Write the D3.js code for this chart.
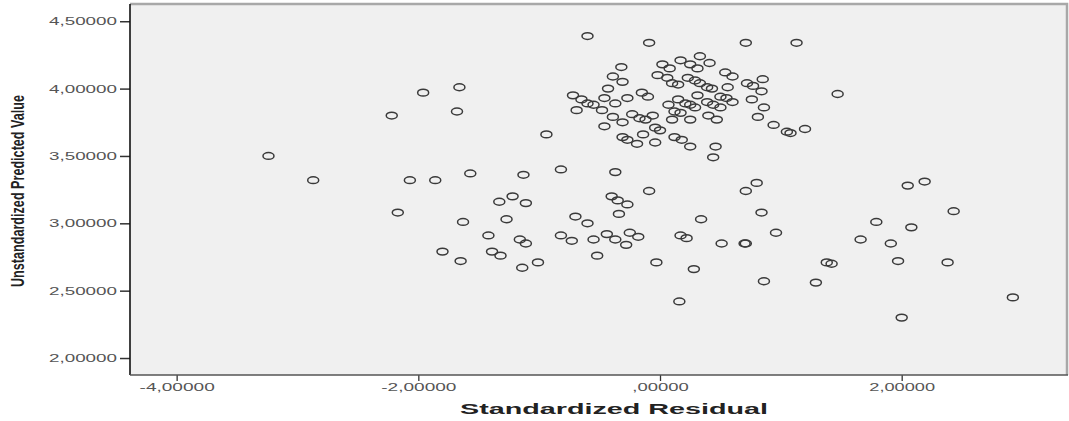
<!DOCTYPE html>
<html>
<head>
<meta charset="utf-8">
<script src="https://cdn.jsdelivr.net/npm/d3@7"></script>
<style>
  html, body { margin: 0; padding: 0; background: #fff; }
  svg { display: block; }
</style>
</head>
<body>
<svg id="chart" width="1069" height="421"></svg>
<script>
// standardized residual (x) and unstandardized predicted value (y)
const residual = [
  -0.60, -0.09, 0.71, 1.13, 1.47, -1.96, -1.66, -2.22, -1.68, -0.94,
  -3.24, -0.72, -0.65, -0.60, -0.55, -0.69, -0.46, -0.48, -0.43, -0.39,
  -0.31, -0.32, -0.27, -0.37, -0.39, -0.31, -0.46, -0.23, -0.17, -0.12,
  -0.06, -0.15, -0.10, 0.02, 0.08, -0.02, 0.06, 0.10, 0.15, 0.17,
  0.25, 0.31, 0.33, 0.41, 0.23, 0.29, 0.33, 0.39, 0.43, 0.54,
  0.60, 0.56, 0.07, 0.15, 0.21, 0.25, 0.12, 0.17, 0.29, 0.31,
  0.39, 0.44, 0.50, 0.50, 0.55, 0.60, 0.40, 0.47, 0.25, 0.10,
  -0.04, 0.00, -0.31, -0.27, -0.14, -0.19, -0.04, 0.12, 0.18, 0.25,
  0.46, 0.44, 0.72, 0.77, 0.84, 0.85, 0.76, 0.86, 0.81, 0.94,
  1.05, 1.08, 1.20,
  -2.87, -2.07, -1.86, -1.57, -1.13, -0.82, -0.37, -0.09, 0.80, 0.71,
  -1.33, -1.22, -1.11, -0.40, -0.35, -0.27, -2.17, -1.63, -1.27, -0.70,
  -0.60, -0.34, 0.34, 0.84, -1.42, -1.16, -1.11, -0.82, -0.73, -0.55,
  -0.44, -0.37, -0.25, -0.18, -0.28, 0.17, 0.22, 0.51, 0.70, 0.71,
  0.96, -1.80, -1.65, -1.39, -1.32, -0.52, -1.14, -1.01, -0.03, 0.28,
  0.16, 0.86, 1.29, 2.05, 2.19, 2.43, 1.79, 2.08, 1.66, 1.91,
  1.38, 1.42, 1.97, 2.38, 2.92, 2.00
];
const predicted = [
  4.39, 4.34, 4.34, 4.34, 3.96, 3.97, 4.01, 3.80, 3.83, 3.66,
  3.50, 3.95, 3.92, 3.89, 3.88, 3.84, 3.93, 3.84, 4.00, 4.09,
  4.05, 4.16, 3.93, 3.89, 3.79, 3.75, 3.72, 3.81, 3.78, 3.77,
  3.80, 3.97, 3.94, 4.18, 4.15, 4.10, 4.08, 4.04, 4.03, 4.21,
  4.18, 4.15, 4.24, 4.19, 4.08, 4.06, 4.04, 4.01, 4.00, 4.12,
  4.09, 4.01, 3.88, 3.92, 3.89, 3.88, 3.83, 3.82, 3.86, 3.95,
  3.90, 3.88, 3.86, 3.94, 3.93, 3.90, 3.80, 3.77, 3.77, 3.77,
  3.71, 3.69, 3.64, 3.62, 3.66, 3.59, 3.60, 3.64, 3.62, 3.57,
  3.57, 3.49, 4.04, 4.02, 3.98, 4.07, 3.92, 3.86, 3.79, 3.73,
  3.68, 3.67, 3.70,
  3.32, 3.32, 3.32, 3.37, 3.36, 3.40, 3.38, 3.24, 3.30, 3.24,
  3.16, 3.20, 3.15, 3.20, 3.17, 3.14, 3.08, 3.01, 3.03, 3.05,
  3.00, 3.07, 3.03, 3.08, 2.91, 2.88, 2.85, 2.91, 2.87, 2.88,
  2.92, 2.88, 2.93, 2.90, 2.84, 2.91, 2.89, 2.85, 2.85, 2.85,
  2.93, 2.79, 2.72, 2.79, 2.76, 2.76, 2.67, 2.71, 2.71, 2.66,
  2.42, 2.57, 2.56, 3.28, 3.31, 3.09, 3.01, 2.97, 2.88, 2.85,
  2.71, 2.70, 2.72, 2.71, 2.45, 2.30
];
const xTicks = [-4, -2, 0, 2];
const yTicks = [2.0, 2.5, 3.0, 3.5, 4.0, 4.5];
const xTitle = "Standardized Residual";
const yTitle = "Unstandardized Predicted Value";

const points = d3.zip(residual, predicted);

const svg = d3.select("#chart");
const m = { left: 130, right: 1067, top: 4, bottom: 375 };

const x = d3.scaleLinear().domain([-4.386, 3.368]).range([m.left, m.right]);
const y = d3.scaleLinear().domain([1.874, 4.628]).range([m.bottom, m.top]);

// SPSS style numbers: comma decimal, plain hyphen, no leading zero
const locale = d3.formatLocale({ decimal: ",", thousands: ".", grouping: [3], currency: ["", ""], minus: "-" });
const fmt = (v) => locale.format(".5f")(v).replace(/^(-?)0,/, "$1,");

// plot area
svg.append("rect")
  .attr("x", m.left).attr("y", m.top)
  .attr("width", m.right - m.left).attr("height", m.bottom - m.top)
  .attr("fill", "#f0f0f0");

// top / right border
svg.append("path")
  .attr("d", `M${m.left},${m.top}H${m.right}V${m.bottom}`)
  .attr("fill", "none")
  .attr("stroke", "#a8a8a8")
  .attr("stroke-width", 2.5);

// y axis
const yAxis = svg.append("g")
  .attr("transform", `translate(${m.left},0)`)
  .call(d3.axisLeft(y).tickValues(yTicks).tickFormat(fmt).tickSize(10).tickPadding(3));
yAxis.select(".domain").remove();
yAxis.selectAll(".tick line").attr("stroke", "#333").attr("stroke-width", 1.5);
yAxis.selectAll(".tick text")
  .attr("fill", "#555")
  .attr("font-family", "Liberation Sans, Arial, sans-serif")
  .attr("font-size", 11)
  .attr("textLength", 68)
  .attr("lengthAdjust", "spacingAndGlyphs");
svg.append("line")
  .attr("x1", m.left).attr("x2", m.left)
  .attr("y1", m.top).attr("y2", m.bottom)
  .attr("stroke", "#111").attr("stroke-width", 1.6);

// x axis
const xAxis = svg.append("g")
  .attr("transform", `translate(0,${m.bottom})`)
  .call(d3.axisBottom(x).tickValues(xTicks).tickFormat(fmt).tickSize(6).tickPadding(2));
xAxis.select(".domain").remove();
xAxis.selectAll(".tick line").attr("stroke", "#333").attr("stroke-width", 1.3);
xAxis.selectAll(".tick text")
  .attr("fill", "#555")
  .attr("font-family", "Liberation Sans, Arial, sans-serif")
  .attr("font-size", 11)
  .attr("textLength", (d) => fmt(d).length * 9.4)
  .attr("lengthAdjust", "spacingAndGlyphs");
svg.append("line")
  .attr("x1", m.left).attr("x2", m.right + 1)
  .attr("y1", m.bottom).attr("y2", m.bottom)
  .attr("stroke", "#555").attr("stroke-width", 1.6);

// axis titles
svg.append("text")
  .attr("x", 614).attr("y", 414)
  .attr("text-anchor", "middle")
  .attr("font-family", "Liberation Sans, Arial, sans-serif")
  .attr("font-weight", "bold")
  .attr("font-size", 14)
  .attr("fill", "#222")
  .attr("textLength", 308)
  .attr("lengthAdjust", "spacingAndGlyphs")
  .text(xTitle);

svg.append("text")
  .attr("transform", "translate(24,191) rotate(-90)")
  .attr("text-anchor", "middle")
  .attr("font-family", "Liberation Sans, Arial, sans-serif")
  .attr("font-weight", "bold")
  .attr("font-size", 18)
  .attr("fill", "#222")
  .attr("textLength", 192)
  .attr("lengthAdjust", "spacingAndGlyphs")
  .text(yTitle);

// markers
svg.append("g")
  .selectAll("ellipse")
  .data(points)
  .join("ellipse")
  .attr("cx", (d) => x(d[0]))
  .attr("cy", (d) => y(d[1]))
  .attr("rx", 5.5)
  .attr("ry", 3.4)
  .attr("fill", "none")
  .attr("stroke", "#3a3a3a")
  .attr("stroke-width", 1.5);
</script>
</body>
</html>
